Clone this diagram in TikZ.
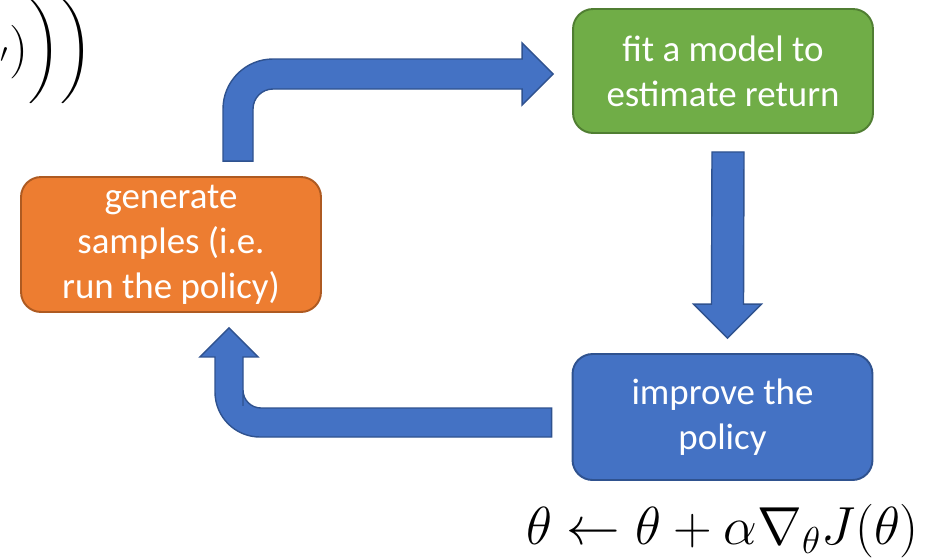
\RequirePackage{fix-cm}
\documentclass[tikz,border=0pt]{standalone}
\usepackage[no-math]{fontspec}
\setmainfont{Carlito}
\usepackage{amsmath}
\usetikzlibrary{
	calc,          %计算
	positioning    %定位
}
\definecolor{boxgreen}{HTML}{70AD47}
\definecolor{edgegreen}{HTML}{507E32}
\definecolor{boxorange}{HTML}{ED7D31}
\definecolor{edgeorange}{HTML}{AE5A21}
\definecolor{boxblue}{HTML}{4472C4}
\definecolor{edgeblue}{HTML}{2F528F}
\tikzset{
	stepbox/.style={rectangle,
		rounded corners=4mm,
		minimum width=6cm,
		align=center,
		text=white,
		line width=1.1pt,
		font=\fontsize{21}{25.5}\selectfont},
	blockarrow/.style={fill=boxblue,
		draw=edgeblue,
		line width=0.8pt}
}

\begin{document}
\begin{tikzpicture}[x=0.02cm,y=-0.02cm]
%画布大小
\useasboundingbox (0,0) rectangle (950,559);
\clip (0,0) rectangle (950,559);

%三个方框
\node[stepbox,fill=boxorange,draw=edgeorange,minimum height=2.7cm] (gen) at (171,244.5) {generate\\samples (i.e.\\run the policy)};
\node[stepbox,fill=boxgreen,draw=edgegreen,minimum height=2.48cm] (fit) at (723,71) {fit a model to\\estimate return};
\node[stepbox,fill=boxblue,draw=edgeblue,minimum height=2.52cm] (imp) at (722.5,417) {improve the\\policy};

%箭头的端点
\coordinate (A1) at ($(gen.north)+(67,-15)$);
\coordinate (A2) at ($(fit.west)+(-19,3)$);
\coordinate (B1) at ($(fit.south)+(5,18)$);
\coordinate (B2) at ($(imp.north)+(5,-15)$);
\coordinate (C1) at ($(imp.west)+(-20,5)$);
\coordinate (C2) at ($(gen.south)+(58,15)$);

%上方弯箭头
\draw[blockarrow] ($(A1)+(-15,0)$) -- ++(0,-30) [rounded corners=1cm] |- ($(A2)+(-150,-15)$)
	[sharp corners] -- ($(A2)+(-31,-15)$) -- ++(0,-16) -- (A2) -- ++(-31,31) -- ++(0,-16)
	-- ($(A2)+(-150,15)$) [rounded corners=4mm] -| ($(A1)+(15,-30)$)
	[sharp corners] -- ($(A1)+(15,0)$) -- cycle;
%右侧向下箭头
\draw[blockarrow] ($(B1)+(-16,0)$) -- ($(B2)+(-16,-34)$) -- ++(-18,0) -- (B2)
	-- ++(34,-34) -- ++(-18,0) -- ($(B1)+(16,0)$) -- cycle;
%下方弯箭头
\draw[blockarrow] ($(C1)+(0,-14)$) -- ($(C1)+(-200,-14)$) [rounded corners=3.6mm] -| ($(C2)+(14,60)$)
	[sharp corners] -- ($(C2)+(14,29)$) -- ++(15,0) -- (C2) -- ++(-29,29) -- ++(15,0) -- ++(0,31)
	[rounded corners=9mm] |- ($(C1)+(-200,15)$)
	[sharp corners] -- ($(C1)+(0,15)$) -- cycle;

%公式
\node[anchor=base,font=\fontsize{30.5}{36}\selectfont] (upd) at ($(imp.south)+(0,64)$) {$\theta \leftarrow \theta + \alpha \nabla_\theta J(\theta)$};
\node[anchor=base east,inner sep=0pt,font=\fontsize{30.5}{36}\selectfont] (grad) at (93,65) {$r(\mathbf{s}_{i,t'},\mathbf{a}_{i,t'})\Big)\Big)$};

\end{tikzpicture}
\end{document}
